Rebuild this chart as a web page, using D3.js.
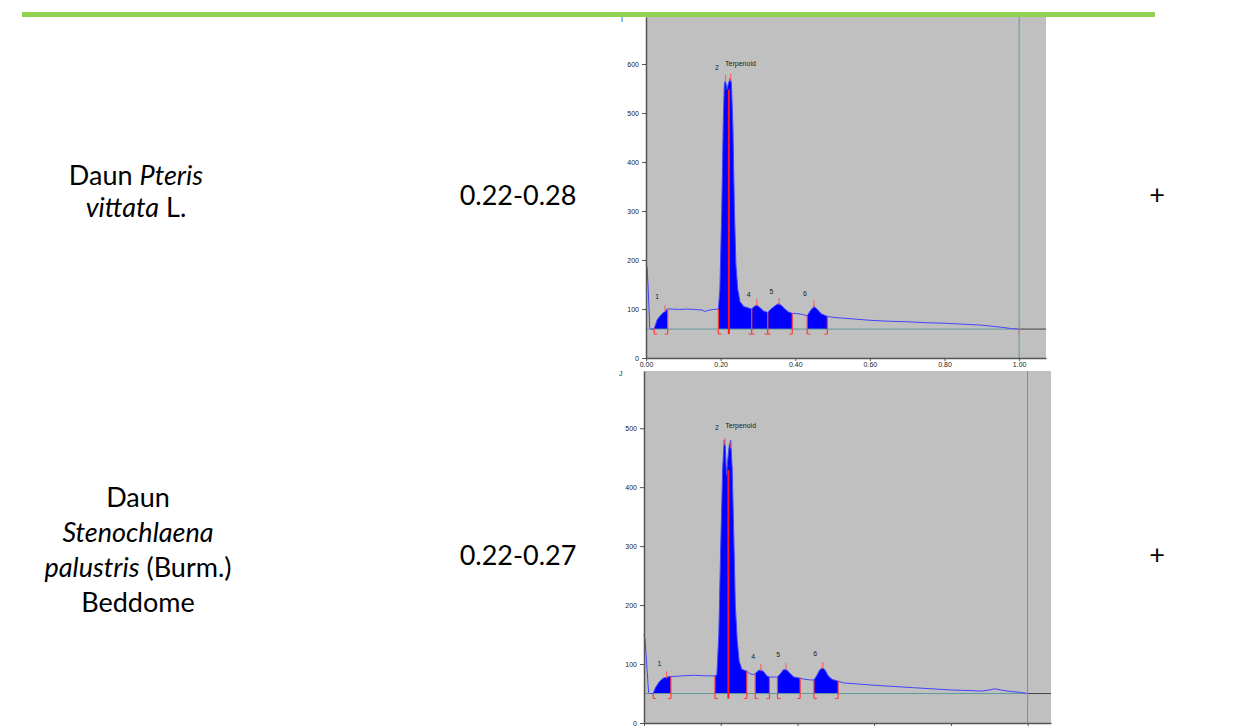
<!DOCTYPE html>
<html>
<head>
<meta charset="utf-8">
<script src="https://cdn.jsdelivr.net/npm/d3@7"></script>
<style>
  body { margin: 0; background: #fff; }
  svg { display: block; }
  .cell { font-family: Lato, "Open Sans", sans-serif; font-size: 27px; fill: #000; }
  .tiny { font-family: "Liberation Sans", Arial, sans-serif; font-size: 7px; fill: #222; }
</style>
</head>
<body>
<div id="chart"></div>
<script>
// table text
const rowNames = [
  [["Daun ", false], ["Pteris", true]],
  [["vittata", true], [" L.", false]]
]
const rowNames2 = [
  [["Daun", false]],
  [["Stenochlaena", true]],
  [["palustris", true], [" (Burm.)", false]],
  [["Beddome", false]]
]
const rfRanges = ["0.22-0.28", "0.22-0.27"]
const results = ["+", "+"]

// densitogram 1 (Pteris vittata)
const rf1 = [0.000,0.003,0.006,0.010,0.013,0.020,0.022,0.030,0.040,0.050,0.058,0.070,0.090,0.110,0.130,0.150,0.158,0.165,0.180,0.194,
  0.198,0.203,0.207,0.210,0.213,0.217,0.221,0.226,0.229,0.233,0.237,0.241,0.246,0.252,0.262,0.275,0.283,0.290,0.297,0.305,
  0.315,0.326,0.335,0.345,0.355,0.362,0.372,0.382,0.392,0.400,0.410,0.420,0.432,0.440,0.450,0.458,0.470,0.486,0.500,0.550,
  0.600,0.650,0.700,0.750,0.800,0.850,0.900,0.950,0.980,1.000]
const au1 = [190,185,140,62,59,59,60,78,88,95,100,100,99,100,99,98,95,97,99,100,
  140,300,480,560,566,548,560,572,560,470,300,190,140,115,105,102,100,105,108,103,
  96,93,100,106,111,108,100,94,91,91,90,89,86,96,105,100,90,85,83,80,
  77,75,74,72,71,69,67,63,60,59]
const baseline1 = 59
const peaks1 = [[0.022,0.058],[0.194,0.283],[0.283,0.326],[0.326,0.392],[0.432,0.486]]
const tops1 = [0.051,0.213,0.227,0.297,0.357,0.450]
const center1 = 0.222
const centerTop1 = 548
const labels1 = [["1",0.030,120],["2",0.190,588],["4",0.275,125],["5",0.336,131],["6",0.426,126]]
const yTicks1 = [0,100,200,300,400,500,600]
const yTickLabels1 = ["0","100","200","300","400","500","600"]
const xTickLabels1 = ["0.00","0.20","0.40","0.60","0.80","1.00"]

// densitogram 2 (Stenochlaena palustris)
const rf2 = [0.000,0.003,0.007,0.012,0.015,0.024,0.030,0.040,0.050,0.060,0.070,0.080,0.100,0.130,0.160,0.185,0.190,0.195,0.200,0.205,
  0.209,0.212,0.215,0.218,0.222,0.226,0.230,0.234,0.238,0.243,0.248,0.255,0.268,0.275,0.285,0.290,0.298,0.305,0.312,0.320,
  0.327,0.340,0.348,0.356,0.363,0.370,0.378,0.390,0.407,0.420,0.435,0.443,0.450,0.458,0.465,0.472,0.480,0.490,0.500,0.506,
  0.520,0.560,0.600,0.650,0.700,0.750,0.800,0.850,0.880,0.900,0.915,0.930,0.950,0.980,1.000]
const au2 = [150,140,100,52,50,50,60,70,76,78,79,79,80,81,80,80,82,150,300,430,
  480,470,420,444,470,480,430,320,200,140,105,91,88,84,82,84,89,90,87,80,
  78,78,78,84,90,91,86,78,76,74,73,73,80,90,94,90,80,74,72,71,
  68,66,64,62,60,58,56,55,54,56,58,56,54,52,50]
const baseline2 = 50
const peaks2 = [[0.024,0.070],[0.185,0.268],[0.290,0.327],[0.348,0.407],[0.443,0.506]]
const tops2 = [0.059,0.211,0.227,0.305,0.370,0.466]
const center2 = 0.220
const centerTop2 = 429
const labels2 = [["1",0.040,97],["2",0.190,497],["4",0.285,109],["5",0.350,112],["6",0.446,114]]
const yTicks2 = [0,100,200,300,400,500]
const yTickLabels2 = ["0","100","200","300","400","500"]
// x labels of the second scan fall below the page edge, only ticks show
const xTickLabels2 = ["","","","","",""]

const xTicks = [0,0.2,0.4,0.6,0.8,1.0]

const svg = d3.select("#chart").append("svg")
  .attr("width", 1235).attr("height", 726)

function drawChart(opt) {
  const g = svg.append("g")
  const xScale = d3.scaleLinear().domain([0, opt.xMax]).range([opt.left, opt.right])
  const yScale = d3.scaleLinear().domain([0, opt.yMax]).range([opt.bottom, opt.top])
  const pts = opt.rf.map((r, i) => ({ rf: r, au: opt.au[i] }))

  g.append("rect")
    .attr("x", opt.left).attr("y", opt.top)
    .attr("width", opt.right - opt.left).attr("height", opt.bottom - opt.top)
    .attr("fill", "#c0c0c0")

  // peak areas
  const area = d3.area()
    .x(d => xScale(d.rf))
    .y0(yScale(opt.baseline))
    .y1(d => yScale(d.au))
  opt.peaks.forEach(p => {
    g.append("path")
      .datum(pts.filter(d => d.rf >= p[0] - 1e-9 && d.rf <= p[1] + 1e-9))
      .attr("d", area)
      .attr("fill", "#0000ff")
  })

  // baseline + vertical marker at Rf 1.0
  g.append("line")
    .attr("x1", opt.left).attr("x2", xScale(1))
    .attr("y1", yScale(opt.baseline)).attr("y2", yScale(opt.baseline))
    .attr("stroke", "#5f9a9a").attr("stroke-width", 1)
  g.append("line")
    .attr("x1", xScale(1)).attr("x2", opt.right)
    .attr("y1", yScale(opt.baseline)).attr("y2", yScale(opt.baseline))
    .attr("stroke", "#444").attr("stroke-width", 1)
  g.append("line")
    .attr("x1", xScale(1)).attr("x2", xScale(1))
    .attr("y1", opt.top).attr("y2", opt.bottom)
    .attr("stroke", "#5f9a9a").attr("stroke-width", 1)

  // curve
  g.append("path")
    .datum(pts)
    .attr("d", d3.line().x(d => xScale(d.rf)).y(d => yScale(d.au)))
    .attr("fill", "none")
    .attr("stroke", "#4444ff")
    .attr("stroke-width", 1)

  const auAt = r => {
    const i = d3.bisector(d => d.rf).left(pts, r)
    if (i <= 0) return pts[0].au
    if (i >= pts.length) return pts[pts.length - 1].au
    const a = pts[i - 1], b = pts[i]
    return a.au + (b.au - a.au) * (r - a.rf) / (b.rf - a.rf)
  }

  // peak boundaries
  const yb = yScale(opt.baseline)
  opt.peaks.forEach(p => {
    p.forEach((r, k) => {
      const x = xScale(r)
      g.append("line")
        .attr("x1", x).attr("x2", x)
        .attr("y1", yScale(auAt(r))).attr("y2", yb + 5)
        .attr("stroke", "#ff3b3b").attr("stroke-width", 1.2)
      g.append("line")
        .attr("x1", x).attr("x2", x + (k === 0 ? 3 : -3))
        .attr("y1", yb + 5).attr("y2", yb + 5)
        .attr("stroke", "#ff3b3b").attr("stroke-width", 1)
    })
  })
  g.append("line")
    .attr("x1", xScale(opt.center)).attr("x2", xScale(opt.center))
    .attr("y1", yScale(opt.centerTop)).attr("y2", yb + 5)
    .attr("stroke", "#ff1a1a").attr("stroke-width", 2)
  g.append("line")
    .attr("x1", xScale(1)).attr("x2", xScale(1))
    .attr("y1", yb - 2).attr("y2", yb + 5)
    .attr("stroke", "#ff6060").attr("stroke-width", 1)

  // peak tops
  opt.tops.forEach(r => {
    const y = yScale(auAt(r))
    g.append("line")
      .attr("x1", xScale(r)).attr("x2", xScale(r))
      .attr("y1", y + 1).attr("y2", y - 6)
      .attr("stroke", "#ff6060").attr("stroke-width", 1.2)
  })

  // peak labels
  g.selectAll(".plabel")
    .data(opt.labels)
    .join("text")
    .attr("class", "tiny")
    .attr("x", d => xScale(d[1]))
    .attr("y", d => yScale(d[2]))
    .attr("text-anchor", "middle")
    .text(d => d[0])
  g.append("text")
    .attr("class", "tiny")
    .attr("x", xScale(0.212)).attr("y", yScale(opt.yMarker))
    .text("Terpenoid")

  // axes
  const yAxis = d3.axisLeft(yScale)
    .tickValues(opt.yTicks)
    .tickFormat((d, i) => opt.yTickLabels[i])
    .tickSize(4).tickSizeOuter(0)
  const yAxisGroup = g.append("g")
    .attr("transform", `translate(${opt.left},0)`)
    .call(yAxis)
  yAxisGroup.select(".domain").attr("stroke", "#555").attr("stroke-width", 1.5)
  yAxisGroup.selectAll(".tick line").attr("stroke", "#555")
  yAxisGroup.selectAll("text").attr("class", "tiny").attr("font-size", null).attr("font-family", null)
    .attr("fill", "#222")

  const xAxis = d3.axisBottom(xScale)
    .tickValues(xTicks)
    .tickFormat((d, i) => opt.xTickLabels[i])
    .tickSize(3).tickSizeOuter(0)
  const xAxisGroup = g.append("g")
    .attr("transform", `translate(0,${opt.bottom})`)
    .call(xAxis)
  xAxisGroup.select(".domain").attr("stroke", "#555").attr("stroke-width", 1.5)
  xAxisGroup.selectAll(".tick line").attr("stroke", "#555")
  xAxisGroup.selectAll("text").attr("class", "tiny").attr("font-size", null).attr("font-family", null)
    .attr("fill", "#222").attr("dy", "0.4em")

  g.append("text")
    .attr("class", "tiny")
    .attr("x", opt.left - 25).attr("y", opt.top + 5)
    .text(opt.axisMark)
}

drawChart({
  left: 646, right: 1046, top: 17, bottom: 358, xMax: 1.072, yMax: 696,
  rf: rf1, au: au1, baseline: baseline1, peaks: peaks1, tops: tops1,
  center: center1, centerTop: centerTop1, labels: labels1, yMarker: 597,
  yTicks: yTicks1, yTickLabels: yTickLabels1, xTickLabels: xTickLabels1, axisMark: "I"
})
drawChart({
  left: 644, right: 1051, top: 371, bottom: 723, xMax: 1.061, yMax: 597,
  rf: rf2, au: au2, baseline: baseline2, peaks: peaks2, tops: tops2,
  center: center2, centerTop: centerTop2, labels: labels2, yMarker: 500,
  yTicks: yTicks2, yTickLabels: yTickLabels2, xTickLabels: xTickLabels2, axisMark: "J"
})

// green header rule
svg.append("rect")
  .attr("x", 22).attr("y", 12).attr("width", 1133).attr("height", 5)
  .attr("fill", "#92d050")

// table cells
function writeLines(lines, cx, y0, step) {
  lines.forEach((parts, i) => {
    const t = svg.append("text")
      .attr("class", "cell")
      .attr("x", cx).attr("y", y0 + i * step)
      .attr("text-anchor", "middle")
    parts.forEach(p => {
      t.append("tspan").attr("font-style", p[1] ? "italic" : "normal").text(p[0])
    })
  })
}
writeLines(rowNames, 136, 185, 32)
writeLines(rowNames2, 138, 507, 35)

svg.selectAll(".rf")
  .data(rfRanges)
  .join("text")
  .attr("class", "cell")
  .attr("x", 518)
  .attr("y", (d, i) => [205, 565][i])
  .attr("text-anchor", "middle")
  .text(d => d)

svg.selectAll(".res")
  .data(results)
  .join("text")
  .attr("class", "cell")
  .attr("font-size", "22px")
  .attr("x", 1157)
  .attr("y", (d, i) => [204, 564][i])
  .attr("text-anchor", "middle")
  .text(d => d)
</script>
</body>
</html>
